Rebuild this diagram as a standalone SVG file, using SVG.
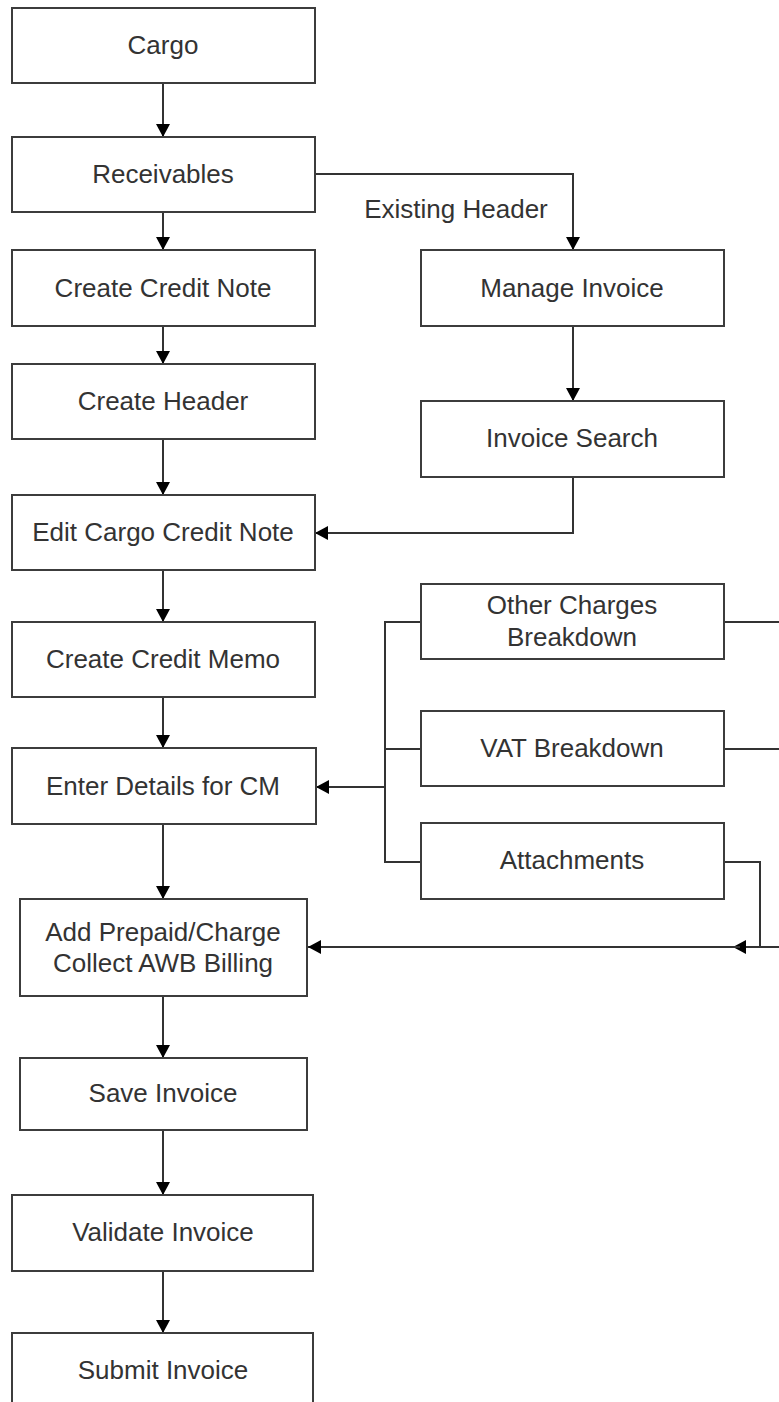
<svg xmlns="http://www.w3.org/2000/svg" width="779" height="1402" viewBox="0 0 779 1402">
<style>
.box{fill:#fff;stroke:#3c3c3c;stroke-width:2}
.t{font-family:"Liberation Sans",Arial,sans-serif;font-size:26px;fill:#333;text-anchor:middle}
.c{fill:none;stroke:#333;stroke-width:2}
</style>
<defs>
<marker id="ah" markerUnits="userSpaceOnUse" markerWidth="13" markerHeight="14" refX="13" refY="7" orient="auto">
<path d="M0,0 L13,7 L0,14 z" fill="#000"/>
</marker>
</defs>
<rect width="779" height="1402" fill="#fff"/>
<g id="connectors">
<path class="c" d="M163,83 V137" marker-end="url(#ah)"/>
<path class="c" d="M163,212 V250" marker-end="url(#ah)"/>
<path class="c" d="M163,326 V364" marker-end="url(#ah)"/>
<path class="c" d="M163,439 V495" marker-end="url(#ah)"/>
<path class="c" d="M163,570 V622" marker-end="url(#ah)"/>
<path class="c" d="M163,697 V748" marker-end="url(#ah)"/>
<path class="c" d="M163,824 V899" marker-end="url(#ah)"/>
<path class="c" d="M163,996 V1058" marker-end="url(#ah)"/>
<path class="c" d="M163,1130 V1195" marker-end="url(#ah)"/>
<path class="c" d="M163,1271 V1333" marker-end="url(#ah)"/>
<path class="c" d="M315,174 H573 V250" marker-end="url(#ah)"/>
<path class="c" d="M573,326 V401" marker-end="url(#ah)"/>
<path class="c" d="M573,477 V533 H315" marker-end="url(#ah)"/>
<path class="c" d="M421,622 H385 V862 H421"/>
<path class="c" d="M421,749 H385"/>
<path class="c" d="M385,787 H316" marker-end="url(#ah)"/>
<path class="c" d="M724,622 H779"/>
<path class="c" d="M724,749 H779"/>
<path class="c" d="M724,862 H760 V947"/>
<path class="c" d="M779,947 H733" marker-end="url(#ah)"/>
<path class="c" d="M740,947 H308" marker-end="url(#ah)"/>
<text class="t" x="456" y="218">Existing Header</text>
</g>
<g id="cargo"><rect class="box" x="12" y="8" width="303" height="75"/><text class="t" x="163" y="54">Cargo</text></g>
<g id="receivables"><rect class="box" x="12" y="137" width="303" height="75"/><text class="t" x="163" y="183">Receivables</text></g>
<g id="create-credit-note"><rect class="box" x="12" y="250" width="303" height="76"/><text class="t" x="163" y="297">Create Credit Note</text></g>
<g id="create-header"><rect class="box" x="12" y="364" width="303" height="75"/><text class="t" x="163" y="410">Create Header</text></g>
<g id="edit-cargo-credit-note"><rect class="box" x="12" y="495" width="303" height="75"/><text class="t" x="163" y="541">Edit Cargo Credit Note</text></g>
<g id="create-credit-memo"><rect class="box" x="12" y="622" width="303" height="75"/><text class="t" x="163" y="668">Create Credit Memo</text></g>
<g id="enter-details"><rect class="box" x="12" y="748" width="304" height="76"/><text class="t" x="163" y="795">Enter Details for CM</text></g>
<g id="add-prepaid"><rect class="box" x="20" y="899" width="287" height="97"/><text class="t" x="163" y="941">Add Prepaid/Charge</text><text class="t" x="163" y="972">Collect AWB Billing</text></g>
<g id="save-invoice"><rect class="box" x="20" y="1058" width="287" height="72"/><text class="t" x="163" y="1102">Save Invoice</text></g>
<g id="validate-invoice"><rect class="box" x="12" y="1195" width="301" height="76"/><text class="t" x="163" y="1241">Validate Invoice</text></g>
<g id="submit-invoice"><rect class="box" x="12" y="1333" width="301" height="76"/><text class="t" x="163" y="1379">Submit Invoice</text></g>
<g id="manage-invoice"><rect class="box" x="421" y="250" width="303" height="76"/><text class="t" x="572" y="297">Manage Invoice</text></g>
<g id="invoice-search"><rect class="box" x="421" y="401" width="303" height="76"/><text class="t" x="572" y="447">Invoice Search</text></g>
<g id="other-charges"><rect class="box" x="421" y="584" width="303" height="75"/><text class="t" x="572" y="614">Other Charges</text><text class="t" x="572" y="646">Breakdown</text></g>
<g id="vat-breakdown"><rect class="box" x="421" y="711" width="303" height="75"/><text class="t" x="572" y="757">VAT Breakdown</text></g>
<g id="attachments"><rect class="box" x="421" y="823" width="303" height="76"/><text class="t" x="572" y="869">Attachments</text></g>
</svg>
